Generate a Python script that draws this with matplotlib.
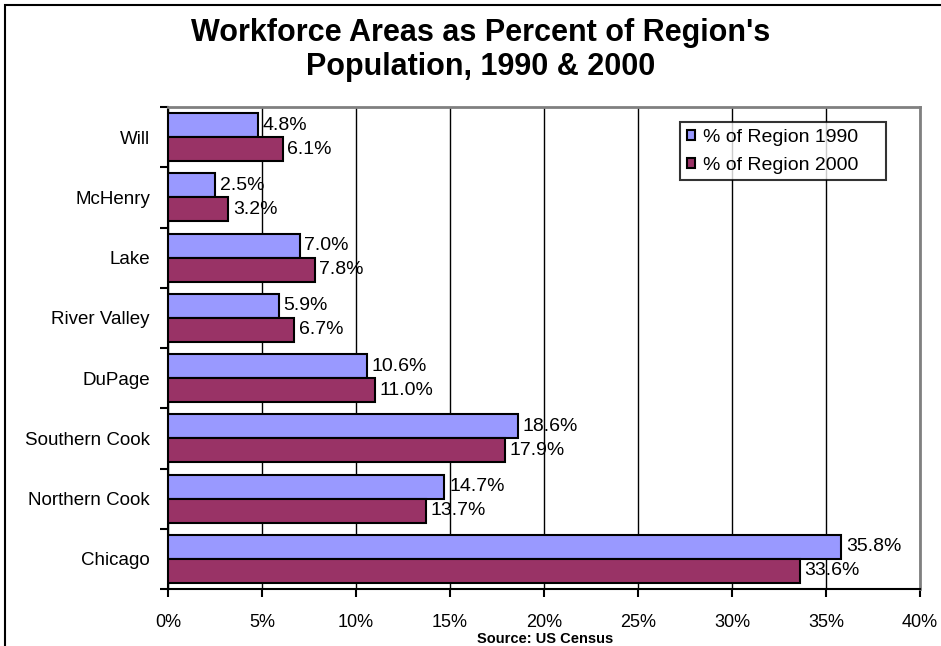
import matplotlib.pyplot as plt
import numpy as np
from matplotlib.patches import Rectangle

plt.rcParams['font.family'] = ['Liberation Sans', 'DejaVu Sans']

# --- DATA ---
areas = ['Chicago', 'Northern Cook', 'Southern Cook', 'DuPage',
         'River Valley', 'Lake', 'McHenry', 'Will']
pct_1990 = [35.8, 14.7, 18.6, 10.6, 5.9, 7.0, 2.5, 4.8]
pct_2000 = [33.6, 13.7, 17.9, 11.0, 6.7, 7.8, 3.2, 6.1]
xticks = [0, 5, 10, 15, 20, 25, 30, 35, 40]

C1990 = '#9999FF'
C2000 = '#993366'

W, H = 941, 646
fig = plt.figure(figsize=(W/100, H/100), dpi=100)
ax_l, ax_r, ax_t, ax_b = 168, 920, 107, 589
ax = fig.add_axes([ax_l/W, 1 - ax_b/H, (ax_r - ax_l)/W, (ax_b - ax_t)/H])

# outer chart frame (runs off right/bottom edges like the original)
fig.patches.append(Rectangle((5/W, -0.05), 1.05, 1 - 5/H + 0.05,
                             transform=fig.transFigure, fill=False,
                             edgecolor='black', linewidth=1.5, zorder=0))

y = np.arange(len(areas))
h = 0.4
ax.barh(y + h/2, pct_1990, height=h, color=C1990, edgecolor='black',
        linewidth=1.5, label='% of Region 1990    ', zorder=3)
ax.barh(y - h/2, pct_2000, height=h, color=C2000, edgecolor='black',
        linewidth=1.5, label='% of Region 2000    ', zorder=3)

for yi, v in zip(y, pct_1990):
    ax.text(v + 0.25, yi + h/2, f'{v:.1f}%', va='center', ha='left', fontsize=14, zorder=4)
for yi, v in zip(y, pct_2000):
    ax.text(v + 0.25, yi - h/2, f'{v:.1f}%', va='center', ha='left', fontsize=14, zorder=4)

ax.set_xlim(0, 40)
ax.set_ylim(-0.5, len(areas) - 0.5)
ax.set_xticks(xticks)
ax.set_xticklabels([f'{t}%' for t in xticks], fontsize=13)
ax.set_yticks(y)
ax.set_yticklabels(areas, fontsize=13.5)
ax.tick_params(axis='y', length=0, pad=13)
ax.set_yticks(np.arange(len(areas) + 1) - 0.5, minor=True)
ax.tick_params(axis='y', which='minor', length=6, width=1.5, direction='out')
ax.tick_params(axis='x', length=6, width=1.5, direction='out', pad=12)

ax.xaxis.grid(True, color='black', linewidth=1)
ax.set_axisbelow(True)
for s in ['left', 'bottom']:
    ax.spines[s].set_linewidth(1.5)
    ax.spines[s].set_color('black')
for s in ['top', 'right']:
    ax.spines[s].set_linewidth(2)
    ax.spines[s].set_color('#808080')

leg = ax.legend(loc='upper left',
                bbox_to_anchor=((680 - ax_l)/(ax_r - ax_l), 1 - (122 - ax_t)/(ax_b - ax_t)),
                fontsize=14, frameon=True, fancybox=False, edgecolor='black',
                handlelength=0.42, handleheight=0.42, handletextpad=0.4,
                borderpad=0.35, labelspacing=0.55, borderaxespad=0)
leg.get_frame().set_linewidth(1.5)
leg.set_zorder(5)

fig.text(481/W, 1 - 50/H, "Workforce Areas as Percent of Region's\nPopulation, 1990 & 2000",
         ha='center', va='center', fontsize=22, fontweight='bold', linespacing=1.15)
fig.text(545/W, 1 - 639/H, 'Source: US Census', ha='center', va='center',
         fontsize=10.5, fontweight='bold')

fig.savefig('out.png', dpi=100)
